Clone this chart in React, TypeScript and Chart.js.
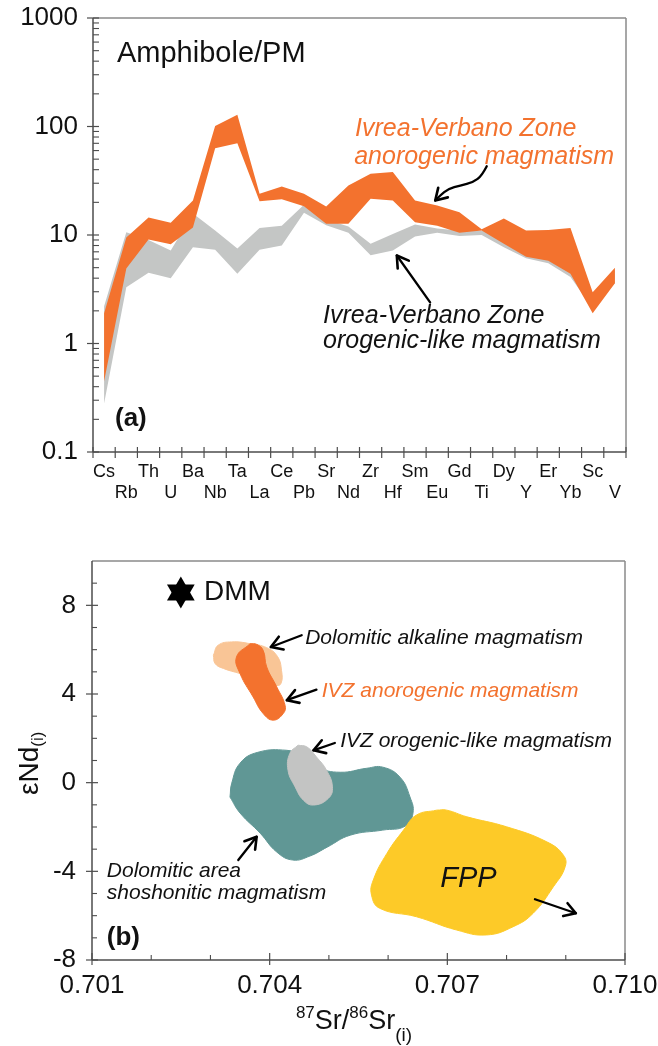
import React, { useEffect, useRef } from 'react';
import { Chart, registerables } from 'chart.js';

Chart.register(...registerables);

const FONT = "'Liberation Sans', Arial, Helvetica, sans-serif";
Chart.defaults.font.family = FONT;

// ================= Panel (a): Amphibole / PM =================
const elements = ['Cs', 'Rb', 'Th', 'U', 'Ba', 'Nb', 'Ta', 'La', 'Ce', 'Pb', 'Sr', 'Nd', 'Zr', 'Hf', 'Sm', 'Eu', 'Gd', 'Ti', 'Dy', 'Y', 'Er', 'Yb', 'Sc', 'V'];
const anorogenicUpper = [1.9, 9.5, 14.5, 13, 20.8, 101, 128, 24, 28, 24, 18.3, 28.6, 36.6, 38, 20.8, 18.7, 16.2, 11.3, 14.2, 11, 11.1, 11.6, 2.97, 5.0];
const anorogenicLower = [0.45, 4.9, 9.1, 8.2, 11.7, 63, 70, 20.5, 21.3, 18.4, 12.7, 12.7, 21.6, 20.8, 13.1, 12.2, 10.5, 11.0, 8.3, 6.3, 5.8, 4.4, 1.9, 3.6];
const orogenicUpper = [2.2, 10.6, 9.0, 7.2, 15.8, 11, 7.5, 11.6, 12.2, 19, 14, 12, 8.3, 10.2, 12.5, 11.5, 11, 11, 10, 9, 8, 7, 2.6, 4.8];
const orogenicLower = [0.28, 3.3, 4.5, 4.0, 7.7, 7.3, 4.4, 7.3, 8.0, 16, 12.3, 10.5, 6.5, 7.2, 9.7, 10.5, 9.8, 10.0, 7.7, 6.1, 5.5, 4.1, 2.1, 3.6];
const yTicksA = [0.1, 1, 10, 100, 1000];
const yTickLabelsA = ['0.1', '1', '10', '100', '1000'];

// ================= Panel (b): eNd vs 87Sr/86Sr =================
const dolomiticAlkaline = [[0.70305, 5.75], [0.70313, 6.2], [0.70336, 6.35], [0.70367, 6.27], [0.70395, 6.09], [0.70413, 5.7], [0.7042, 5.07], [0.70419, 4.47], [0.70409, 4.39], [0.7035, 4.92], [0.70322, 5.15], [0.70308, 5.37]];
const ivzAnorogenic = [[0.70367, 6.27], [0.70344, 5.67], [0.7035, 4.92], [0.70372, 3.87], [0.70389, 3.12], [0.70406, 2.82], [0.70423, 3.12], [0.70426, 3.49], [0.70412, 4.32], [0.70395, 5.22], [0.70389, 5.97], [0.70378, 6.24]];
const dolomiticShoshonitic = [[0.70333, -0.65], [0.70336, -0.02], [0.7035, 0.88], [0.7038, 1.37], [0.70429, 1.46], [0.70451, 1.24], [0.7048, 0.7], [0.70519, 0.47], [0.70564, 0.65], [0.70591, 0.7], [0.7062, 0.25], [0.70637, -0.65], [0.70642, -1.37], [0.70629, -1.96], [0.70591, -2.14], [0.70536, -2.37], [0.70497, -2.91], [0.70468, -3.31], [0.70439, -3.49], [0.70412, -3.13], [0.70384, -2.28], [0.7035, -1.37]];
const ivzOrogenic = [[0.70448, 1.69], [0.70434, 1.32], [0.70431, 0.56], [0.70443, -0.19], [0.70457, -0.79], [0.70474, -1.01], [0.70499, -0.71], [0.70506, -0.19], [0.70496, 0.56], [0.70479, 1.16], [0.70463, 1.61]];
const fpp = [[0.70682, -1.24], [0.70648, -1.46], [0.70626, -2.14], [0.70598, -3.19], [0.70575, -4.39], [0.70572, -5.07], [0.70586, -5.67], [0.70648, -6.05], [0.70716, -6.65], [0.70766, -6.87], [0.70811, -6.5], [0.70845, -5.89], [0.70879, -4.7], [0.70899, -3.79], [0.70896, -3.27], [0.70868, -2.67], [0.708, -1.99], [0.70733, -1.54], [0.70699, -1.24]];
const dmm = [0.7025, 8.58];
const xTicksB = [0.701, 0.704, 0.707, 0.71];
const xTickLabelsB = ['0.701', '0.704', '0.707', '0.710'];
const xMinorB = [0.702, 0.703, 0.705, 0.706, 0.708, 0.709];
const yTicksB = [-8, -4, 0, 4, 8];
const yTickLabelsB = ['-8', '-4', '0', '4', '8'];
const yMinorB = [-7, -6, -5, -3, -2, -1, 1, 2, 3, 5, 6, 7, 9];

// ================= colours =================
const ORANGE = '#f3722e';
const GRAY_BAND = '#c4c6c5';
const LIGHT_ORANGE = '#f9c596';
const TEAL = '#609795';
const GRAY_SHAPE = '#c3c4c3';
const YELLOW = '#fdca28';
const AXIS = '#4d4d4d';
const FRAME = '#8a8a8a';
const INK = '#111111';

// ================= annotations =================
const textsA = [
  { x: 0.58, y: 389, text: 'Amphibole/PM', font: `29px ${FONT}`, color: INK },
  { x: 11.3, y: 82.6, text: 'Ivrea-Verbano Zone', font: `italic 25px ${FONT}`, color: ORANGE },
  { x: 11.26, y: 45.6, text: 'anorogenic magmatism', font: `italic 25px ${FONT}`, color: ORANGE },
  { x: 9.86, y: 1.56, text: 'Ivrea-Verbano Zone', font: `italic 25px ${FONT}`, color: INK },
  { x: 9.86, y: 0.9, text: 'orogenic-like magmatism', font: `italic 25px ${FONT}`, color: INK },
  { x: 0.49, y: 0.175, text: '(a)', font: `bold 26px ${FONT}`, color: INK },
];
const arrowsA = [
  [[17.23, 43.1], [17.01, 35.3], [16.63, 30.7], [16.03, 28.6], [15.5, 26.7], [15.13, 23.1], [14.91, 20.8]],
  [[14.68, 2.39], [13.18, 6.47]],
];
const textsB = [
  { x: 0.70289, y: 8.22, text: 'DMM', font: `28px ${FONT}`, color: INK },
  { x: 0.7046, y: 6.24, text: 'Dolomitic alkaline magmatism', font: `italic 21px ${FONT}`, color: INK },
  { x: 0.70488, y: 3.85, text: 'IVZ anorogenic magmatism', font: `italic 21px ${FONT}`, color: ORANGE },
  { x: 0.70519, y: 1.6, text: 'IVZ orogenic-like magmatism', font: `italic 21px ${FONT}`, color: INK },
  { x: 0.70125, y: -4.26, text: 'Dolomitic area', font: `italic 21px ${FONT}`, color: INK },
  { x: 0.70125, y: -5.25, text: 'shoshonitic magmatism', font: `italic 21px ${FONT}`, color: INK },
  { x: 0.70688, y: -4.71, text: 'FPP', font: `italic 29px ${FONT}`, color: INK },
  { x: 0.70125, y: -7.32, text: '(b)', font: `bold 26px ${FONT}`, color: INK },
];
const arrowsB = [
  [[0.70454, 6.65], [0.70402, 6.12]],
  [[0.70479, 4.2], [0.70429, 3.72]],
  [[0.7051, 1.79], [0.70474, 1.46]],
  [[0.70347, -3.49], [0.70378, -2.44]],
  [[0.70848, -5.26], [0.70917, -5.89]],
];

// ================= drawing helpers =================
function seg(ctx: CanvasRenderingContext2D, x1: number, y1: number, x2: number, y2: number, color: string, w: number) {
  ctx.beginPath();
  ctx.strokeStyle = color;
  ctx.lineWidth = w;
  ctx.moveTo(x1, y1);
  ctx.lineTo(x2, y2);
  ctx.stroke();
}

function drawArrow(ctx: CanvasRenderingContext2D, pts: { x: number; y: number }[]) {
  ctx.save();
  ctx.strokeStyle = '#000';
  ctx.lineWidth = 2.3;
  ctx.lineCap = 'round';
  ctx.lineJoin = 'round';
  ctx.beginPath();
  ctx.moveTo(pts[0].x, pts[0].y);
  if (pts.length > 2) {
    for (let i = 1; i < pts.length - 1; i++) {
      const mx = (pts[i].x + pts[i + 1].x) / 2;
      const my = (pts[i].y + pts[i + 1].y) / 2;
      ctx.quadraticCurveTo(pts[i].x, pts[i].y, mx, my);
    }
  }
  const tip = pts[pts.length - 1];
  ctx.lineTo(tip.x, tip.y);
  ctx.stroke();
  const prev = pts[pts.length - 2];
  const ang = Math.atan2(tip.y - prev.y, tip.x - prev.x);
  const L = 13;
  const s = 0.55;
  ctx.lineWidth = 2.6;
  ctx.beginPath();
  ctx.moveTo(tip.x - L * Math.cos(ang - s), tip.y - L * Math.sin(ang - s));
  ctx.lineTo(tip.x, tip.y);
  ctx.lineTo(tip.x - L * Math.cos(ang + s), tip.y - L * Math.sin(ang + s));
  ctx.stroke();
  ctx.restore();
}

function annotationPlugin(id: string, texts: any[], arrows: number[][][]) {
  return {
    id,
    afterDatasetsDraw(chart: any) {
      const { ctx, scales } = chart;
      ctx.save();
      for (const a of arrows) {
        drawArrow(ctx, a.map(([x, y]) => ({ x: scales.x.getPixelForValue(x), y: scales.y.getPixelForValue(y) })));
      }
      ctx.textAlign = 'left';
      ctx.textBaseline = 'alphabetic';
      for (const t of texts) {
        ctx.font = t.font;
        ctx.fillStyle = t.color;
        ctx.fillText(t.text, scales.x.getPixelForValue(t.x), scales.y.getPixelForValue(t.y));
      }
      ctx.restore();
    },
  };
}

const frameA = {
  id: 'frameA',
  afterDraw(chart: any) {
    const { ctx, chartArea: a, scales } = chart;
    ctx.save();
    seg(ctx, a.left, a.top, a.right, a.top, FRAME, 1.5);
    seg(ctx, a.right, a.top, a.right, a.bottom, FRAME, 1.5);
    seg(ctx, a.left, a.top, a.left, a.bottom, AXIS, 1.5);
    seg(ctx, a.left, a.bottom, a.right, a.bottom, AXIS, 1.5);
    for (let i = 0; i <= elements.length; i++) {
      const px = scales.x.getPixelForValue(i - 0.5);
      seg(ctx, px, a.bottom - 5, px, a.bottom + 6, AXIS, 1.2);
    }
    for (const v of yTicksA) {
      const py = scales.y.getPixelForValue(v);
      seg(ctx, a.left - 6, py, a.left + 6, py, AXIS, 1.2);
    }
    for (let e = -1; e < 3; e++) {
      for (let k = 2; k <= 9; k++) {
        const py = scales.y.getPixelForValue(k * Math.pow(10, e));
        seg(ctx, a.left, py, a.left + 6, py, AXIS, 1.1);
      }
    }
    ctx.restore();
  },
};

const frameB = {
  id: 'frameB',
  afterDraw(chart: any) {
    const { ctx, chartArea: a, scales } = chart;
    ctx.save();
    seg(ctx, a.left, a.top, a.right, a.top, FRAME, 1.5);
    seg(ctx, a.right, a.top, a.right, a.bottom, FRAME, 1.5);
    seg(ctx, a.left, a.top, a.left, a.bottom, AXIS, 1.5);
    seg(ctx, a.left, a.bottom, a.right, a.bottom, AXIS, 1.5);
    for (const v of xTicksB) {
      const px = scales.x.getPixelForValue(v);
      seg(ctx, px, a.bottom - 7, px, a.bottom + 5, AXIS, 1.2);
    }
    for (const v of xMinorB) {
      const px = scales.x.getPixelForValue(v);
      seg(ctx, px, a.bottom - 5, px, a.bottom, AXIS, 1.1);
    }
    for (const v of yTicksB) {
      const py = scales.y.getPixelForValue(v);
      seg(ctx, a.left - 6, py, a.left + 6, py, AXIS, 1.2);
    }
    for (const v of yMinorB) {
      const py = scales.y.getPixelForValue(v);
      seg(ctx, a.left, py, a.left + 5, py, AXIS, 1.1);
    }
    // x-axis title: 87Sr/86Sr(i)
    const parts = [
      { t: '87', size: 17, dy: -11 },
      { t: 'Sr/', size: 27, dy: 0 },
      { t: '86', size: 17, dy: -11 },
      { t: 'Sr', size: 27, dy: 0 },
      { t: '(i)', size: 19, dy: 12 },
    ];
    ctx.fillStyle = INK;
    ctx.textBaseline = 'alphabetic';
    ctx.textAlign = 'left';
    let total = 0;
    for (const p of parts) {
      ctx.font = `${p.size}px ${FONT}`;
      total += ctx.measureText(p.t).width;
    }
    let x = 354 - total / 2;
    const base = a.bottom + 69;
    for (const p of parts) {
      ctx.font = `${p.size}px ${FONT}`;
      ctx.fillText(p.t, x, base + p.dy);
      x += ctx.measureText(p.t).width;
    }
    // y-axis title: eNd(i)
    ctx.save();
    ctx.translate(38, a.top + 234);
    ctx.rotate(-Math.PI / 2);
    ctx.font = `28px ${FONT}`;
    ctx.fillText('\u03B5Nd', 0, 0);
    const w = ctx.measureText('\u03B5Nd').width;
    ctx.font = `17px ${FONT}`;
    ctx.fillText('(i)', w, 5);
    ctx.restore();
    ctx.restore();
  },
};

function shape(pts: number[][], color: string, order: number) {
  const data = pts.map(([x, y]) => ({ x, y }));
  data.push({ x: pts[0][0], y: pts[0][1] });
  return {
    data,
    showLine: true,
    fill: 'shape',
    tension: 0.45,
    backgroundColor: color,
    borderColor: color,
    borderWidth: 1,
    pointRadius: 0,
    pointHitRadius: 0,
    order,
  };
}

const fixWidth = (w: number) => (s: any) => {
  s.width = w;
  s.paddingTop = 0;
  s.paddingBottom = 0;
};
const fixHeight = (h: number) => (s: any) => {
  s.height = h;
  s.paddingLeft = 0;
  s.paddingRight = 0;
};

export default function App() {
  const refA = useRef<HTMLCanvasElement>(null);
  const refB = useRef<HTMLCanvasElement>(null);

  useEffect(() => {
    const band = (data: number[], color: string, fill: any, order: number) => ({
      data,
      borderWidth: 0,
      pointRadius: 0,
      pointHitRadius: 0,
      tension: 0,
      fill,
      backgroundColor: color,
      borderColor: color,
      order,
    });

    const chartA = new Chart(refA.current as HTMLCanvasElement, {
      type: 'line',
      data: {
        labels: elements,
        datasets: [
          band(orogenicLower, GRAY_BAND, false, 2),
          band(orogenicUpper, GRAY_BAND, '-1', 2),
          band(anorogenicLower, ORANGE, false, 1),
          band(anorogenicUpper, ORANGE, '-1', 1),
        ] as any,
      },
      options: {
        animation: false,
        responsive: false,
        events: [],
        layout: { padding: { left: 0, top: 18, right: 32, bottom: 0 } },
        plugins: { legend: { display: false }, tooltip: { enabled: false } },
        scales: {
          x: {
            type: 'category',
            offset: true,
            grid: { display: false, drawTicks: false },
            border: { display: false },
            ticks: {
              autoSkip: false,
              maxRotation: 0,
              minRotation: 0,
              padding: 9,
              color: INK,
              font: { size: 18 },
              callback: (_v: any, i: number) => (i % 2 === 0 ? [elements[i], ''] : ['', elements[i]]),
            },
            afterFit: fixHeight(58),
          },
          y: {
            type: 'logarithmic',
            min: 0.1,
            max: 1000,
            grid: { display: false, drawTicks: false },
            border: { display: false },
            afterBuildTicks: (s: any) => {
              s.ticks = yTicksA.map((v) => ({ value: v }));
            },
            ticks: {
              padding: 15,
              color: INK,
              font: { size: 26 },
              callback: (v: any) => {
                const i = yTicksA.indexOf(v);
                return i >= 0 ? yTickLabelsA[i] : '';
              },
            },
            afterFit: fixWidth(93),
          },
        },
      } as any,
      plugins: [frameA, annotationPlugin('annA', textsA, arrowsA)],
    });

    const chartB = new Chart(refB.current as HTMLCanvasElement, {
      type: 'scatter',
      data: {
        datasets: [
          shape(dolomiticAlkaline, LIGHT_ORANGE, 6),
          shape(ivzAnorogenic, ORANGE, 5),
          shape(dolomiticShoshonitic, TEAL, 4),
          shape(ivzOrogenic, GRAY_SHAPE, 3),
          shape(fpp, YELLOW, 2),
          {
            data: [
              { x: dmm[0], y: dmm[1] },
              { x: dmm[0], y: dmm[1] },
            ],
            showLine: false,
            pointStyle: 'triangle',
            pointRadius: 16,
            pointRotation: [0, 180],
            pointBackgroundColor: '#000',
            pointBorderWidth: 0,
            order: 1,
          },
        ] as any,
      },
      options: {
        animation: false,
        responsive: false,
        events: [],
        layout: { padding: { left: 0, top: 51, right: 33, bottom: 0 } },
        plugins: { legend: { display: false }, tooltip: { enabled: false } },
        scales: {
          x: {
            type: 'linear',
            min: 0.701,
            max: 0.71,
            grid: { display: false, drawTicks: false },
            border: { display: false },
            afterBuildTicks: (s: any) => {
              s.ticks = xTicksB.map((v) => ({ value: v }));
            },
            ticks: {
              padding: 10,
              color: INK,
              font: { size: 26 },
              maxRotation: 0,
              callback: (v: any) => {
                const i = xTicksB.indexOf(v);
                return i >= 0 ? xTickLabelsB[i] : '';
              },
            },
            afterFit: fixHeight(86),
          },
          y: {
            type: 'linear',
            min: -8,
            max: 10,
            grid: { display: false, drawTicks: false },
            border: { display: false },
            afterBuildTicks: (s: any) => {
              s.ticks = yTicksB.map((v) => ({ value: v }));
            },
            ticks: {
              padding: 16,
              color: INK,
              font: { size: 26 },
              callback: (v: any) => {
                const i = yTicksB.indexOf(v);
                return i >= 0 ? yTickLabelsB[i] : '';
              },
            },
            afterFit: fixWidth(92),
          },
        },
      } as any,
      plugins: [frameB, annotationPlugin('annB', textsB, arrowsB)],
    });

    return () => {
      chartA.destroy();
      chartB.destroy();
    };
  }, []);

  return (
    <div style={{ position: 'absolute', left: 0, top: 0, width: 658, height: 1046, background: '#fff', overflow: 'hidden' }}>
      <canvas ref={refA} width={658} height={510} style={{ display: 'block', width: 658, height: 510 }} />
      <canvas ref={refB} width={658} height={536} style={{ display: 'block', width: 658, height: 536 }} />
    </div>
  );
}
